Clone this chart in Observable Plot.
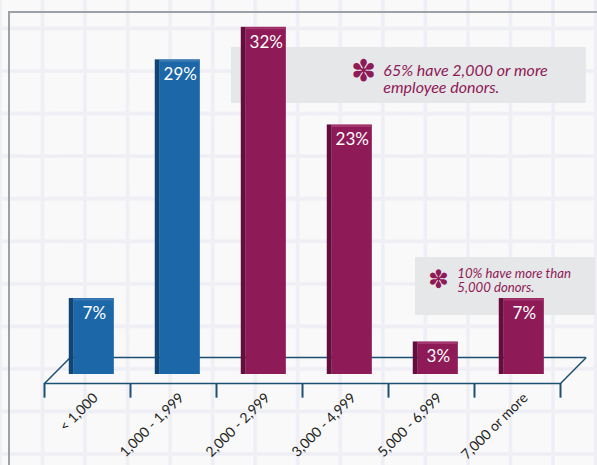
<!DOCTYPE html>
<html>
<head>
<meta charset="utf-8">
<script src="https://cdn.jsdelivr.net/npm/d3@7"></script>
<script src="https://cdn.jsdelivr.net/npm/@observablehq/plot@0.6"></script>
<style>
  html, body { margin: 0; padding: 0; }
  body {
    width: 597px; height: 465px; overflow: hidden; position: relative;
    background-color: #f9f9fa;
    background-image:
      linear-gradient(to right, #f3f3f7 0, #eeeef5 1px, #eeeef5 3px, #f3f3f7 4px, transparent 4px),
      linear-gradient(to bottom, #f3f3f7 0, #eeeef5 1px, #eeeef5 3px, #f3f3f7 4px, transparent 4px);
    background-size: 42.55px 42.55px;
    background-position: 40.5px 26.5px;
  }
  #frame {
    position: absolute; left: 8px; top: 11px; right: -10px; bottom: -10px;
    border-top: 2px solid #9ba1a5; border-left: 2px solid #9ba1a5;
  }
  #chart { position: absolute; left: 0; top: 0; }
</style>
</head>
<body>
<div id="frame"></div>
<div id="chart"></div>
<script>
// ---- data ----
const categories = ["< 1,000", "1,000 - 1,999", "2,000 - 2,999", "3,000 - 4,999", "5,000 - 6,999", "7,000 or more"];
const shares = [7, 29, 32, 23, 3, 7];
const groups = ["under", "under", "over", "over", "over", "over"];
const noteTexts = ["65% have 2,000 or more\nemployee donors.", "10% have more than\n5,000 donors."];

// ---- styles ----
const FACE = {under: "#1c67a8", over: "#8e1a57"};
const SIDE = {under: "#0f4677", over: "#650d3c"};
const TOP = {under: "#3a7ab2", over: "#a3356f"};
const FLOOR = "#1d4f73";

// geometry (in scale units)
const OFF = 0.05, HALF = 0.262, SIDEW = 0.058;
const FRONT_Y = -0.83, BACK_Y = 1.57, DEPTH_X = 0.30, TICK = 1.35;

const rows = categories.map((c, i) => ({i, category: c, share: shares[i], group: groups[i]}));
const edges = d3.range(categories.length + 1).map(k => k - 0.5);

// annotation boxes placed in data space
const notes = [
  {text: noteTexts[0], x1: 1.674, x2: 5.80, y1: 24.98, y2: 30.14, sx: 3.21, sy: 27.9, tx: 3.44, ty: 27.22, size: 16, star: 30},
  {text: noteTexts[1], x1: 3.814, x2: 5.907, y1: 5.44, y2: 10.78, sx: 4.08, sy: 8.75, tx: 4.30, ty: 8.66, size: 13.2, star: 25}
];

const chart = Plot.plot({
  width: 597,
  height: 465,
  margin: 0,
  style: {background: "transparent", overflow: "visible", fontFamily: "Lato, 'Open Sans', sans-serif"},
  x: {type: "linear", domain: [-0.5, 5.5], range: [44, 560], axis: null},
  y: {type: "linear", domain: [0, 32], range: [374, 26.8], axis: null},
  color: {type: "identity"},
  marks: [
    // annotation boxes
    Plot.rect(notes, {x1: "x1", x2: "x2", y1: "y1", y2: "y2", fill: "#e6e7e8"}),
    Plot.text(notes, {x: "sx", y: "sy", text: () => "\u273D", fill: "#8e1a57", fontSize: d => d.star, fontWeight: "bold", fontFamily: "DejaVu Sans"}),
    Plot.text(notes, {x: "tx", y: "ty", text: "text", textAnchor: "start", fill: "#8e1a57", fontSize: d => d.size, fontStyle: "italic", lineHeight: 1.08}),
    // floor
    Plot.ruleY([BACK_Y], {x1: -0.5 + DEPTH_X, x2: 5.5 + DEPTH_X, stroke: FLOOR, strokeWidth: 1.5}),
    Plot.link([-0.5, 5.5], {x1: d => d, y1: FRONT_Y, x2: d => d + DEPTH_X, y2: BACK_Y, stroke: FLOOR, strokeWidth: 1.5}),
    Plot.ruleY([FRONT_Y], {x1: -0.5, x2: 5.5, stroke: FLOOR, strokeWidth: 1.5}),
    Plot.ruleX(edges, {x: d => d, y1: FRONT_Y, y2: FRONT_Y - TICK, stroke: FLOOR, strokeWidth: 2}),
    // bars: side face, front face, top edge
    Plot.rect(rows, {x1: d => d.i + OFF - HALF, x2: d => d.i + OFF - HALF + SIDEW, y1: 0, y2: "share", fill: d => SIDE[d.group]}),
    Plot.rect(rows, {x1: d => d.i + OFF - HALF + SIDEW, x2: d => d.i + OFF + HALF, y1: 0, y2: "share", fill: d => FACE[d.group]}),
    Plot.ruleY(rows, {y: "share", x1: d => d.i + OFF - HALF + SIDEW, x2: d => d.i + OFF + HALF, stroke: d => TOP[d.group], strokeWidth: 2, dy: 1}),
    // value labels
    Plot.text(rows, {x: d => d.i + OFF + SIDEW / 2, y: "share", text: d => d.share + "%", fill: "white", fontSize: 17, dy: 15}),
    // category labels
    Plot.text(rows, {x: "i", y: FRONT_Y, text: "category", rotate: -45, textAnchor: "end", dx: 8, dy: 12, fontSize: 14, fill: "#231f20"})
  ]
});
document.getElementById("chart").append(chart);
</script>
</body>
</html>
